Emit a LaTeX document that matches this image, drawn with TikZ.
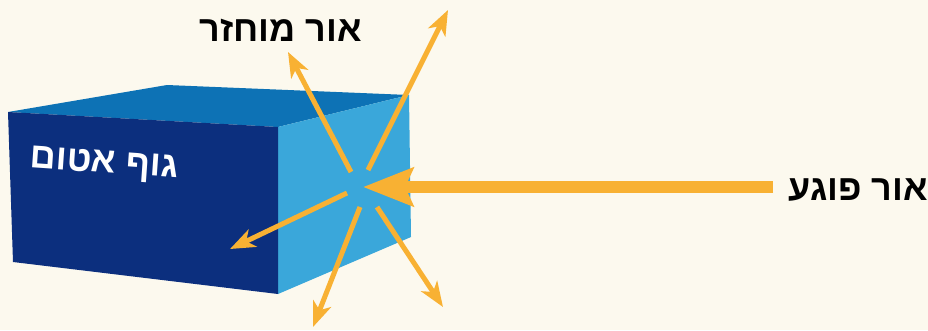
\documentclass[tikz,border=0pt]{standalone}
\usepackage{fontspec}
\setmainfont{Liberation Sans}
\TeXXeTstate=1
\usetikzlibrary{arrows.meta}
\definecolor{bg}{HTML}{FCF9EE}
\definecolor{frontface}{HTML}{0C2F7E}
\definecolor{topface}{HTML}{0D72B5}
\definecolor{sideface}{HTML}{3AA7DA}
\definecolor{ray}{HTML}{F8B133}
\tikzset{
  raystyle/.style={draw=ray, line width=5pt,
    -{Stealth[length=25pt,width=19pt,inset=7pt]}},
  beamstyle/.style={draw=ray, line width=12pt,
    -{Stealth[length=50pt,width=38pt,inset=8pt]}},
  label/.style={font=\bfseries\fontsize{36}{36}\selectfont, inner sep=0pt},
}
\begin{document}
\begin{tikzpicture}[x=1pt,y=-1pt]
  % canvas
  \fill[bg] (0,0) rectangle (928,330);
  \useasboundingbox (0,0) rectangle (928,330);

  % opaque block
  \fill[topface] (8,112) -- (167,85) -- (409,95) -- (278,127) -- cycle;
  \fill[sideface] (278,127) -- (409,95) -- (411,237) -- (278,294) -- cycle;
  \fill[frontface] (8,112) -- (278,127) -- (278,294) -- (13,262) -- cycle;

  \node[label, text=white, rotate=-4] (body) at (104,165)
    {\beginR גוף אטום\endR};

  % point of incidence and ray ends
  \coordinate (src) at (773,187);
  \coordinate (hit) at (363,187);
  \coordinate (s1) at (351,172);  \coordinate (e1) at (288,52);
  \coordinate (s2) at (368,170);  \coordinate (e2) at (448,10);
  \coordinate (s3) at (347,193);  \coordinate (e3) at (230,249);
  \coordinate (s4) at (360,207);  \coordinate (e4) at (313,327);
  \coordinate (s5) at (377,207);  \coordinate (e5) at (443,307);

  % incident beam
  \draw[beamstyle] (src) -- (hit);

  % scattered rays
  \draw[raystyle] (s1) -- (e1);
  \draw[raystyle] (s2) -- (e2);
  \draw[raystyle] (s3) -- (e3);
  \draw[raystyle] (s4) -- (e4);
  \draw[raystyle] (s5) -- (e5);

  \node[label] (refl) at (281,30) {\beginR אור מוחזר\endR};
  \node[label] (inc) at (858,190) {\beginR אור פוגע\endR};
\end{tikzpicture}
\end{document}
